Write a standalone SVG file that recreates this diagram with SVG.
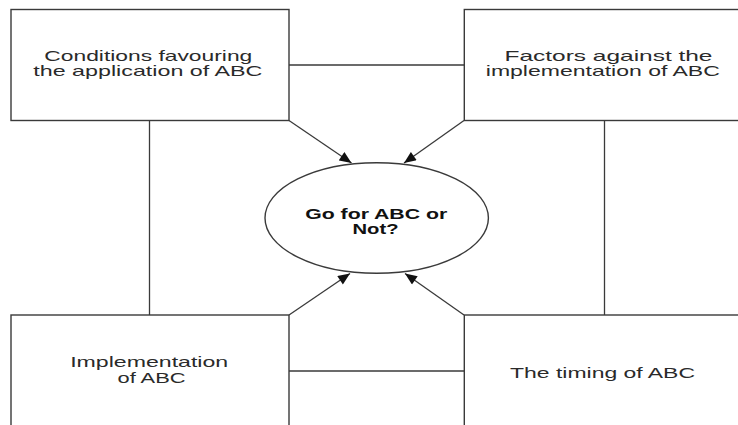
<svg xmlns="http://www.w3.org/2000/svg" width="738" height="425" viewBox="0 0 738 425">
<defs>
<style>
.box{fill:#fff;stroke:#3a3a3a;stroke-width:1.4}
.ln{fill:none;stroke:#3a3a3a;stroke-width:1.3}
.t{font-family:"Liberation Sans",Arial,sans-serif;font-size:14.5px;fill:#2a2a2a;text-anchor:middle}
.b{font-family:"Liberation Sans",Arial,sans-serif;font-size:15px;font-weight:bold;fill:#111;text-anchor:middle}
</style>
<marker id="ah" viewBox="0 0 12 10" refX="12" refY="5" markerWidth="13" markerHeight="10" markerUnits="userSpaceOnUse" orient="auto">
<path d="M0,0 L12,5 L0,10 Z" fill="#111"/>
</marker>
</defs>
<rect width="738" height="425" fill="#fff"/>
<g id="connectors">
<line class="ln" x1="289" y1="65" x2="464" y2="65"/>
<line class="ln" x1="149.5" y1="121" x2="149.5" y2="315"/>
<line class="ln" x1="604.5" y1="121" x2="604.5" y2="315"/>
<line class="ln" x1="289" y1="371" x2="464" y2="371"/>
<line class="ln" x1="289" y1="120.5" x2="351.5" y2="163" marker-end="url(#ah)"/>
<line class="ln" x1="464" y1="120.5" x2="404" y2="163" marker-end="url(#ah)"/>
<line class="ln" x1="289" y1="315" x2="350" y2="273.5" marker-end="url(#ah)"/>
<line class="ln" x1="464" y1="315" x2="405" y2="273.5" marker-end="url(#ah)"/>
</g>
<g id="conditions">
<rect class="box" x="11" y="9.5" width="278" height="111"/>
<text class="t" x="148.3" y="60.7" textLength="208" lengthAdjust="spacingAndGlyphs">Conditions favouring</text>
<text class="t" x="147.8" y="75.5" textLength="229" lengthAdjust="spacingAndGlyphs">the application of ABC</text>
</g>
<g id="factors">
<rect class="box" x="464.3" y="9.5" width="290" height="111"/>
<text class="t" x="608.5" y="60.7" textLength="208" lengthAdjust="spacingAndGlyphs">Factors against the</text>
<text class="t" x="602.8" y="75.5" textLength="234" lengthAdjust="spacingAndGlyphs">implementation of ABC</text>
</g>
<g id="implementation">
<rect class="box" x="11" y="315" width="278" height="130"/>
<text class="t" x="149.2" y="366.7" textLength="158" lengthAdjust="spacingAndGlyphs">Implementation</text>
<text class="t" x="151.5" y="382.7" textLength="68" lengthAdjust="spacingAndGlyphs">of ABC</text>
</g>
<g id="timing">
<rect class="box" x="464.3" y="315" width="290" height="130"/>
<text class="t" x="602.5" y="378.3" textLength="185" lengthAdjust="spacingAndGlyphs">The timing of ABC</text>
</g>
<g id="decision">
<ellipse class="box" cx="376.7" cy="218" rx="111.7" ry="55.3"/>
<text class="b" x="376.2" y="219.3" textLength="142" lengthAdjust="spacingAndGlyphs">Go for ABC or</text>
<text class="b" x="375.5" y="234.4" textLength="46" lengthAdjust="spacingAndGlyphs">Not?</text>
</g>
</svg>
